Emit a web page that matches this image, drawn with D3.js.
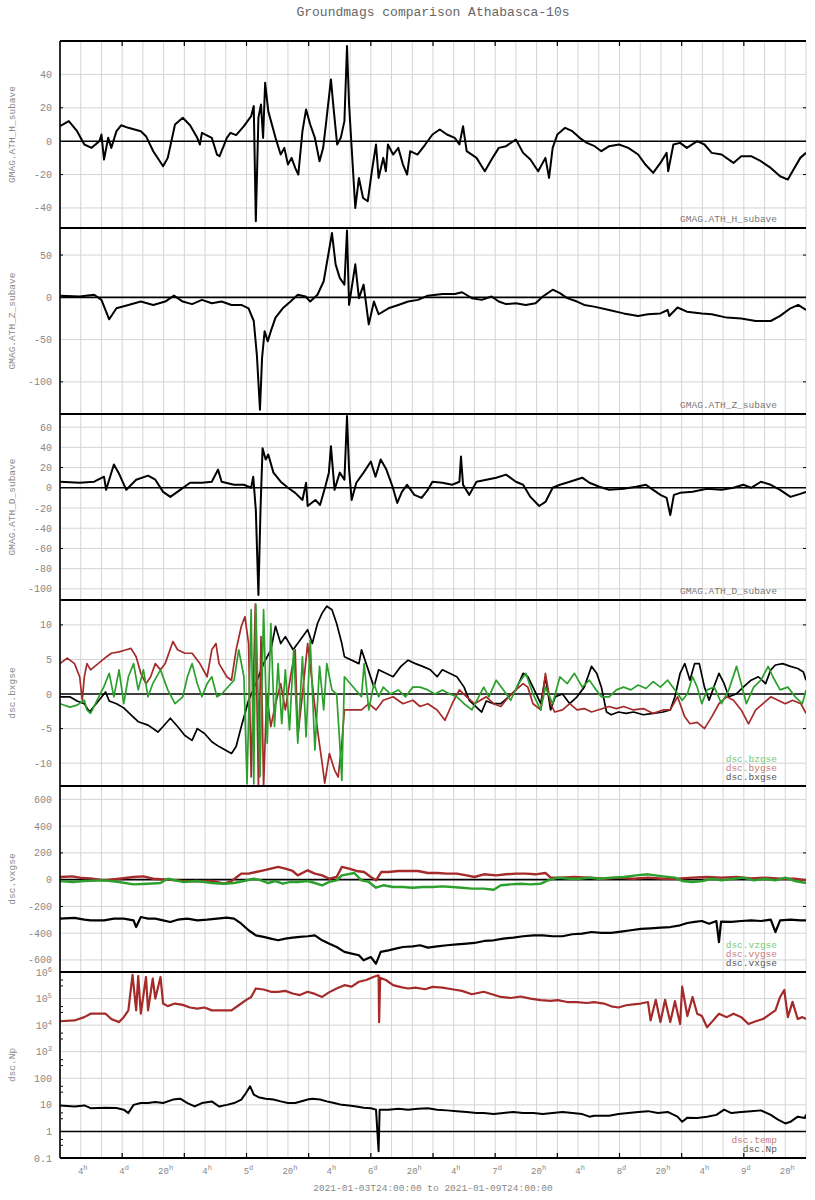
<!DOCTYPE html>
<html><head><meta charset="utf-8">
<script src="https://cdn.jsdelivr.net/npm/d3@7"></script>
<style>
body{margin:0;background:#fff}
svg{display:block}
text{font-family:"Liberation Mono","DejaVu Sans Mono",monospace}
</style>
</head><body>
<svg id="c" width="815" height="1200"></svg>
<script>
// ---------------- DATA (hours since 2021-01-04T00:00, value) ----------------
const H_data=[[0,9],[1.7,12],[3.3,6],[4.7,-2],[6.1,-4],[7.6,0],[8,4],[8.5,-11],[9.3,2],[9.9,-4],[10.9,6],[11.8,9.5],[13.2,8],[15.6,6],[16.6,3],[18,-6],[19.9,-15],[20.8,-10],[22.2,10],[23.7,14],[25.1,9.5],[26.5,2],[27,-2],[27.4,5],[29.3,2],[30.3,-8],[30.8,-9],[31.7,-2],[32.2,2],[32.9,5],[34,3.6],[35.5,9],[36.9,15],[37.4,21],[37.8,-48],[38.3,14],[38.8,22],[39.2,2],[39.6,35],[40.2,18],[41.6,2],[42.6,-8],[43.3,-4],[44,-14],[44.7,-10],[45.4,-16],[46,-20],[46.8,6],[47.5,19],[48.3,10],[49.2,2],[50.1,-12],[50.8,-4],[51.4,12],[52.3,37],[52.8,20],[53.5,-2],[54.2,2],[54.9,12],[55.4,57],[55.8,22],[56.3,-4],[57,-40],[57.7,-22],[58.5,-34],[59.4,-36],[60.2,-18],[61,-2],[61.5,-22],[62.4,-10],[62.9,-18],[63.3,-2],[64.3,-8],[65.3,-4],[66.2,-14],[67,-20],[67.6,-6],[69,-8],[70.5,-2],[71.9,4],[73.3,7],[74.7,4],[76.2,2],[77.1,-2],[77.8,9],[78.5,-6],[80.4,-10],[82,-18],[83.3,-11],[84.7,-4],[86.1,-3],[88,1],[89.4,-7],[90.8,-11],[92.3,-18],[93.7,-10],[94.4,-22],[95.1,-4],[96,4],[97.5,8],[98.9,6],[100.3,2],[101.7,-1],[103.2,-3],[104.5,-6],[106,-3],[107.9,-2],[109.7,-4],[111.6,-8],[113,-14],[114.5,-19],[115.9,-13],[117.1,-7],[117.4,-18],[118.4,-2],[119.7,-1],[121,-4],[123,0],[124.4,-2],[125.8,-7],[127.7,-8],[130,-13],[131.5,-9],[133.4,-9],[135.3,-12],[137.2,-16],[139,-21],[140.5,-23],[141.4,-18],[142.9,-10],[144,-7]];

const Z_data=[[0,2],[3.8,1],[6.6,3],[8,-3],[9.5,-26],[10.9,-13],[13.2,-9],[15.6,-5],[18,-9],[20.3,-5],[22,2],[23.7,-5],[25.5,-8],[27.4,-3],[29.3,-7],[31.2,-5],[33.1,-9],[35,-9],[36.4,-13],[37.4,-28],[38,-68],[38.6,-133],[39,-72],[39.5,-40],[40.1,-52],[40.7,-40],[41.6,-24],[43,-13],[44.5,-5],[45.9,3],[47.4,1],[48.3,-5],[49.7,3],[50.9,19],[52,58],[52.5,76],[53.2,39],[54,23],[54.9,15],[55.4,79],[55.8,-9],[56.4,15],[57,39],[57.7,-1],[58.6,15],[59.6,-32],[60.6,-5],[61.5,-20],[63.4,-13],[65.3,-9],[67.2,-5],[69.1,-3],[71,2],[73.8,4],[76.2,4],[77.6,6],[79.5,-1],[81.4,-3],[83.3,1],[84.7,-5],[86.1,-8],[88,-7],[89.9,-9],[91.8,-7],[93.2,1],[95.1,9],[96.5,5],[97.9,-1],[99.8,-5],[101.2,-9],[103.1,-11],[106,-15],[108.8,-19],[111.6,-22],[113.5,-20],[115.9,-19],[117.3,-15],[117.6,-22],[119.2,-12],[121,-17],[123.9,-19],[125.8,-20],[128.7,-24],[131.5,-25],[134.3,-28],[137.2,-28],[139,-22],[141,-13],[142.5,-9],[144,-15]];

const D_data=[[0,6],[3.8,5],[6.6,6],[8.5,11],[8.9,-2],[10.4,23],[11.3,15],[12.8,-2],[14.7,8],[17,12],[18.4,8],[19.9,-4],[21.3,-9],[23.2,-2],[25.1,5],[27.4,5],[29.3,6],[30.5,18],[31.2,6],[33.6,3],[35.5,3],[36.9,0],[37.3,11],[37.8,-22],[38.3,-106],[38.7,-22],[39.1,39],[39.7,28],[40.2,33],[41.2,15],[42.6,6],[44,0],[45.4,-5],[46.8,-12],[47.5,5],[47.8,-18],[49.3,-12],[50.2,-17],[51.2,1],[51.9,15],[52.3,41],[53,-2],[54,15],[54.9,8],[55.4,71],[55.8,18],[56.3,-12],[57.2,5],[58.6,15],[60,26],[60.9,11],[61.9,28],[63,18],[64.2,1],[65.1,-15],[66,-4],[67,3],[68.4,-7],[69.8,-10],[71,-2],[71.9,6],[73.8,5],[75.7,3],[77.1,6],[77.4,31],[77.8,3],[79,-7],[80.4,6],[82.3,8],[84.2,10],[86.1,13],[88,6],[89.4,3],[90.8,-9],[92.5,-18],[93.7,-14],[95.1,0],[96.5,3],[98.4,6],[100.8,10],[102.2,5],[104.1,1],[106,-2],[108.8,-1],[111.2,1],[113.1,3],[114.5,-2],[115.9,-7],[117.1,-10],[117.8,-27],[118.5,-7],[119.7,-5],[122.1,-4],[124.9,-1],[127.7,-2],[130,0],[131.9,3],[133.4,0],[135.3,6],[137.2,3],[139,-2],[141,-9],[142.9,-6],[144,-4]];

const BX_data=[[0,-0.4],[1.9,-0.4],[3.3,-1],[4.7,-1.4],[5.7,-2.6],[8.8,0.3],[9.5,-1],[10.9,-1.4],[12.3,-2],[13.7,-3],[15.1,-4],[17,-4.5],[18.9,-5.5],[19.9,-4.7],[21.3,-3.5],[22.7,-4.7],[24.1,-6],[25.5,-6.7],[26.5,-5],[27.9,-5.7],[29.3,-6.9],[30.7,-7.6],[33.1,-8.6],[34,-7.6],[35,-4.7],[36.4,-0.9],[37.8,1.5],[39.3,4.4],[40.7,6.4],[41.6,9.8],[42.6,7.3],[43.5,8.3],[45,6.4],[47.8,9.3],[48.7,7.3],[49.7,10.2],[50.6,11.7],[51.5,12.7],[52.5,12.2],[53.4,10.2],[54.4,7.3],[54.9,5.4],[57.7,4.4],[58.2,6.4],[59.1,4.4],[60.6,1],[61.5,3.5],[62.9,3],[64.3,2.5],[65.8,4],[67.2,4.9],[68.6,4.4],[70,4],[71.5,3.5],[72.8,2.5],[73.8,3.5],[75.2,3],[76.6,2.5],[78,1],[79,-0.9],[81.4,-2.6],[82.3,-1],[83.7,-1.4],[85.1,-1.4],[86.6,-0.4],[88,0.6],[89.4,3],[90.3,2.5],[91.3,1],[92.8,-1.4],[93.7,2.5],[94.7,-2.3],[95.6,-0.4],[97,0],[98.4,-1.4],[99.8,-0.4],[101.2,1],[102.6,4],[103.6,3],[104.5,1],[105.5,-2.6],[106.4,-3],[107.8,-2.6],[109.3,-2.8],[110.7,-2.6],[112.6,-3],[114.5,-2.8],[116.4,-2.6],[117.8,-2.3],[118.7,-0.4],[119.7,3],[120.6,4.4],[121.6,2],[122.5,4.4],[123.4,4.4],[124.4,1],[125.3,-0.9],[126.2,1],[127.2,3],[128.2,1.5],[129.1,-0.4],[130.5,0],[131.9,1],[133.4,2],[134.8,2.5],[136.2,1.5],[137.2,3.5],[138.1,4.2],[139.5,4.4],[141,4],[142.4,3.7],[143.5,3.2],[144,2]];

const BY_data=[[0,4.4],[1.4,5.2],[2.8,4.4],[3.8,2.5],[4.3,-0.9],[4.7,2.5],[5.2,4.4],[5.9,3.5],[9,5.4],[9.9,5.9],[11.4,6.1],[12.8,6.4],[13.7,6.6],[14.7,5.4],[15.6,3],[16.6,1.5],[17.5,2.5],[18.4,4.4],[19.4,3.5],[20.3,4.4],[21.8,7.6],[22.7,6.4],[24.1,5.9],[25.5,5.9],[27,4.4],[28.4,2.5],[29.3,6.4],[30.1,7.3],[30.7,4.4],[32.2,2.5],[33.1,2],[34,6.4],[35,9.8],[35.7,11.2],[36.4,7.3],[36.9,-12],[37.7,13],[38.3,-13.4],[38.8,8.3],[39.3,-13.4],[39.9,0],[40.7,-4.7],[41.6,-1.4],[42.6,1.5],[43.5,-2.3],[44.5,2.5],[45.4,6.4],[45.9,-6.2],[46.8,0],[47.8,7.3],[48.7,1.5],[49.7,-5.2],[50.6,-10],[51.1,-12.9],[52,-8.6],[53,-11],[53.7,-12],[54.4,-7.1],[54.9,-2.3],[58.2,-2.3],[59.6,-1.4],[61,-2.3],[62.4,-0.9],[64.3,-0.4],[66.2,-1.4],[68.1,-0.9],[69.5,-1.8],[71,-1.4],[72.8,-2.3],[74.3,-3.8],[75.7,-1.4],[77.1,0.6],[78.5,-0.4],[80,-1.4],[82.3,-0.4],[83.7,-1.4],[85.1,-1.8],[86.6,-0.4],[88,0.6],[89.4,1.5],[90.3,1],[91.3,-1.4],[92.8,-2.3],[93.7,3],[94.7,-1.4],[95.5,-2.6],[97,-2.3],[98.4,-1.4],[99.8,-2.3],[101.2,-2.1],[102.6,-2.6],[106,-1.8],[107.4,-2.1],[108.8,-1.8],[110.7,-2.3],[112.6,-2.1],[114.5,-2.8],[116.4,-2.3],[117.8,-2.3],[119.2,-0.4],[120.6,-3.3],[121.6,-4.3],[123,-4.1],[124.4,-5],[125.8,-3.3],[127.2,-1.4],[128.7,-0.4],[130,-0.9],[131.5,-2.3],[132.9,-4.3],[134.3,-2.3],[135.7,-1.4],[137.2,-0.4],[138.6,-0.9],[140,-1.4],[141.4,-0.9],[143,-1.4],[144,-2.8]];

const BZ_data=[[0,-1.4],[1.9,-1.9],[3.3,-1.6],[4.7,-0.9],[5.2,-2.3],[5.9,-2.8],[8.5,1.1],[9.5,3],[10.4,-0.4],[11.4,3.5],[12.3,-1.4],[13.2,2.5],[14.2,4.4],[15.1,0.6],[16.1,3.5],[17,-0.4],[17.9,1.5],[19.4,3.5],[20.8,0.6],[22.2,-1.4],[23.7,-0.4],[24.6,2.5],[25.5,4.4],[26.5,1.5],[27.4,-0.4],[28.4,1.5],[29.3,2.5],[30.3,-0.4],[31.2,0],[33.6,2],[34.5,6.4],[35.5,2.5],[36.1,-13],[36.9,12.2],[37.4,-13],[37.8,13],[38.6,-12],[39.3,12.2],[40,-7.1],[40.7,10.2],[41.4,-4.7],[42.1,4.4],[42.8,-4.3],[43.5,3.5],[44.3,-5.2],[45.1,6.4],[45.9,-7.1],[46.8,5.4],[47.5,-6.2],[48.3,7.8],[49.2,-8.1],[50.1,4],[50.9,-2.3],[51.5,4.4],[52.5,0.6],[53.4,0],[54,-7.1],[54.4,-12.5],[54.9,2.5],[58.2,-0.4],[58.7,4.4],[59.6,-2.3],[60.6,1.5],[61.5,-0.4],[62.4,1],[63.8,0],[65.3,0.6],[66.7,-0.4],[68.1,1],[69.5,1],[71,0.6],[72.4,0],[73.8,0.6],[75.2,0],[76.6,-0.4],[78,-1.4],[79.5,-2.3],[81.8,1],[82.8,-0.4],[84.2,2],[85.6,0.6],[87,-0.9],[88.5,1.5],[89.9,3],[91.3,0],[92.8,-2.3],[93.7,1],[95.1,-1.4],[96.5,2.5],[97.9,1.5],[99.3,3],[100.8,1],[102.2,2],[103.1,1],[104.5,-0.4],[106,-0.4],[107.4,0.6],[108.8,1],[110.2,0.6],[111.6,1.3],[113.1,0.8],[114.5,1.8],[115.9,1],[117.3,2],[118.7,0.6],[120.1,-0.9],[121.1,0],[122.1,2.5],[123,1],[123.9,-1.4],[124.9,0.6],[126.3,1],[127.7,-1.4],[129.1,0.6],[130.6,4],[131.5,1.5],[132.5,-1.4],[133.9,1],[135.3,2],[136.7,4],[137.6,2.5],[139,0.6],[140.5,1],[141.9,-0.4],[143.3,-1.4],[144,0.6]];

const VX_data=[[0,-291],[2.8,-286],[4.7,-299],[5.9,-304],[8.5,-304],[10.4,-291],[12.3,-291],[14.2,-304],[14.7,-354],[15.6,-279],[17,-291],[18.4,-291],[19.9,-304],[21.3,-316],[22.7,-299],[24.6,-291],[26.5,-304],[28.4,-299],[30.3,-291],[32.2,-284],[33.6,-291],[35,-329],[36.4,-378],[37.8,-416],[39.3,-428],[40.7,-441],[42.1,-453],[43.5,-441],[44.9,-433],[46.3,-428],[47.8,-423],[49.2,-416],[50.6,-453],[52,-478],[53.4,-503],[54.9,-540],[56.3,-553],[57.7,-565],[58.6,-603],[60,-578],[61,-628],[61.9,-540],[63.4,-528],[64.8,-515],[66.2,-503],[68.1,-498],[69.5,-490],[71,-508],[72.8,-498],[74.7,-490],[76.6,-483],[78.5,-478],[80,-473],[81.9,-458],[83.7,-453],[85.6,-441],[87.5,-433],[89.4,-423],[91.4,-416],[93.2,-416],[95.1,-423],[97,-423],[98.9,-408],[100.8,-403],[102.6,-391],[104.5,-398],[106.4,-398],[108.3,-388],[110.2,-378],[112.1,-368],[114,-364],[115.9,-359],[117.8,-354],[119.7,-341],[121.1,-324],[122.5,-316],[123.9,-309],[125.3,-329],[126.7,-309],[127.2,-466],[127.6,-314],[129.6,-316],[131.5,-309],[133.4,-304],[135.3,-309],[137.2,-299],[138.1,-391],[139,-304],[141,-299],[142.9,-304],[144,-304]];

const VY_data=[[0,20],[2.4,25],[4.3,12],[5.9,10],[8.5,-5],[11.4,7],[14.2,20],[16.1,25],[18,7],[20.8,0],[23.7,-10],[26.5,-12],[29.3,-10],[31.7,-30],[33.1,-10],[35,45],[36.4,45],[37.8,57],[39.3,70],[40.7,82],[42.1,95],[43.5,82],[44.9,65],[45.9,32],[47.8,70],[49.2,45],[50.6,32],[52,7],[53.4,20],[54.4,95],[55.8,82],[57.2,65],[58.7,57],[60,20],[61,-5],[62,57],[63.4,57],[65.3,65],[67.2,65],[69.1,65],[71,50],[72.8,50],[74.7,45],[76.6,45],[78.5,32],[80,20],[81.8,40],[84.2,32],[86.1,40],[88,45],[89.9,45],[91.8,40],[93.7,50],[94.7,15],[96.5,15],[99.3,20],[102.2,15],[105,7],[107.8,15],[110.7,7],[113.5,15],[116.4,7],[119.2,7],[122.1,15],[124.9,20],[127.7,15],[130.6,20],[133.4,10],[136.2,15],[139,7],[141.9,7],[144,-5]];

const VZ_data=[[0,-10],[2.4,-17],[4.7,-10],[8.5,-5],[11.4,-17],[14.2,-35],[17,-30],[19.4,-25],[20.8,7],[23.7,-17],[26.5,-10],[29.3,-25],[31.7,-30],[33.6,-25],[35.5,-10],[37.4,7],[38.8,-5],[40.2,-25],[41.6,-10],[43,-30],[44.5,-17],[45.9,-17],[47.8,-10],[49.2,-25],[50.6,-42],[52,-17],[53.4,-5],[54.4,32],[56.8,50],[58.2,-5],[59.6,-17],[61,-60],[62.4,-42],[64.3,-55],[66.2,-55],[68.1,-60],[70,-55],[71.9,-55],[73.8,-50],[75.7,-55],[77.6,-60],[79.5,-67],[81.8,-67],[83.7,-75],[85.1,-42],[87,-35],[88.9,-30],[90.8,-35],[92.8,-30],[94.2,-5],[96.1,15],[98.4,7],[100.3,7],[102.2,15],[104.1,7],[106.4,15],[108.8,20],[111.2,32],[113.5,40],[116.4,25],[118.7,15],[120.1,-10],[122.1,-17],[124,-10],[125.8,7],[127.7,-5],[130.1,7],[131.9,15],[133.9,-5],[136.2,7],[138.1,-5],[140,15],[141.9,-10],[144,-25]];

const TEMP_data=[[0,14000],[2.8,15000],[4.7,20000],[5.9,27000],[8.8,27000],[9.9,17000],[11.4,13000],[12.3,20000],[13.2,36000],[14,780000],[14.7,36000],[15.1,700000],[15.6,27000],[16.6,650000],[17,36000],[17.9,560000],[18.4,100000],[19.4,650000],[19.9,65000],[20.8,52000],[22.2,65000],[23.7,58000],[25.1,46000],[26.5,42000],[27.9,46000],[29.3,36000],[31.2,36000],[33.1,36000],[34.5,56000],[35.9,87000],[36.9,115000],[37.8,240000],[39.3,220000],[40.7,180000],[42.1,180000],[43.5,195000],[44.9,155000],[46.3,135000],[47.8,180000],[49.2,150000],[50.6,115000],[52,175000],[53.4,240000],[54.9,320000],[56.3,280000],[57.7,430000],[59.1,500000],[60.6,660000],[61.5,750000],[61.6,13000],[61.8,600000],[62.9,500000],[64.3,320000],[65.8,270000],[67.2,240000],[68.6,260000],[70.5,225000],[71.9,275000],[73.8,260000],[75.7,225000],[77.6,195000],[79.5,145000],[81.8,180000],[83.7,140000],[85.1,115000],[87,105000],[88.9,120000],[90.8,100000],[92.8,87000],[94.7,82000],[96.1,87000],[97.9,74000],[99.8,74000],[101.7,68000],[103.1,74000],[105,65000],[106.4,51000],[107.8,46000],[109.3,56000],[110.7,60000],[112.1,65000],[113.5,74000],[114,15000],[115,90000],[115.9,13000],[116.8,90000],[117.8,13000],[118.7,80000],[119.7,11000],[120.1,280000],[121.1,22000],[122.1,115000],[123,27000],[123.9,22000],[124.9,8300],[125.8,13000],[127.2,27000],[128.7,20000],[130,27000],[131.5,20000],[132.9,11000],[134.3,14000],[135.7,17000],[137.2,27000],[138.1,36000],[139,115000],[139.8,210000],[140.5,20000],[141.4,75000],[142.4,17000],[143.3,20000],[144,17000]];

const NP_data=[[0,9.5],[2.8,8.7],[4.7,9.5],[5.9,7.5],[8.8,7.8],[10.9,7.6],[12.3,6.6],[13.2,4.9],[14.2,10],[15.6,11.7],[17,11.7],[18.4,12.9],[19.9,11.7],[21.8,15.8],[23.2,17],[24.6,11.7],[26,8.7],[27.4,11.7],[29.3,13.5],[30.7,8.7],[32.2,10],[33.6,11.7],[35,15.8],[35.9,28],[36.7,50],[37.4,24.5],[38.3,19.5],[39.7,17],[41.2,15.8],[42.6,13.5],[44,11.7],[45.4,11.7],[46.8,14],[47.8,15.8],[48.7,17],[50.2,15.8],[51.5,13.5],[52.9,11.7],[54.4,10],[55.8,9.5],[57.2,8.7],[58.6,7.8],[60,7.5],[61,6.6],[61.5,0.18],[61.7,6.6],[63.4,6.6],[65.3,7.1],[67.2,6.6],[69.1,7.1],[71,7.5],[72.8,6.6],[74.7,6.2],[76.6,5.8],[78.5,5.4],[80.4,4.9],[81.8,4.9],[83.7,4.5],[85.6,4.9],[87.5,5.4],[89.4,4.9],[91.4,4.9],[93.2,4.5],[95.1,4.9],[97,5.4],[98.9,4.9],[100.8,4.5],[102.2,3.6],[103.1,3.9],[106,3.9],[107.8,4.5],[109.7,4.9],[111.6,5.4],[113.5,5.8],[115.4,4.9],[117.3,5.4],[119.2,3.6],[120.1,2.3],[121.1,3.3],[123,3.2],[124.9,3.6],[126.7,4.2],[128.2,6.6],[129.6,4.9],[131.5,5.4],[133.4,5.8],[135.3,6.2],[137.2,4.2],[138.6,2.8],[140,2],[141,2.3],[142.4,3.6],[143.8,3.2],[144,4.3]];

// tick values
const H_ticks=[40,20,0,-20,-40];
const Z_ticks=[50,0,-50,-100];
const D_ticks=[60,40,20,0,-20,-40,-60,-80,-100];
const B_ticks=[10,5,0,-5,-10];
const V_ticks=[600,400,200,0,-200,-400,-600];
const N_ticks=[1e6,1e5,1e4,1e3,100,10,1,0.1];
const N_tickLabels=[["10","6"],["10","5"],["10","4"],["10","3"],["100"],["10"],["1"],["0.1"]];

const titleText="Groundmags comparison Athabasca-10s";
const rangeText="2021-01-03T24:00:00 to 2021-01-09T24:00:00";

// ---------------- LAYOUT ----------------
const svg=d3.select("#c");
const L=60,R=806;
const t0=new Date(Date.UTC(2021,0,4)), t1=new Date(Date.UTC(2021,0,10));
const x=d3.scaleUtc().domain([t0,t1]).range([L,R]);
const T=h=>new Date(t0.getTime()+h*3600e3);
const RED="#a52a2a", GREEN="#2ca02c";

const panels=[
 {top:41,bot:228,dom:[-52,60],ticks:H_ticks,label:"GMAG.ATH_H_subave",marks:[20,-20],
  series:[{d:H_data,c:"#000",w:2}],legend:[["GMAG.ATH_H_subave","#777"]]},
 {top:228,bot:414,dom:[-138,82],ticks:Z_ticks,label:"GMAG.ATH_Z_subave",marks:[50,-100],
  series:[{d:Z_data,c:"#000",w:2}],legend:[["GMAG.ATH_Z_subave","#777"]]},
 {top:414,bot:600,dom:[-111,73],ticks:D_ticks,label:"GMAG.ATH_D_subave",marks:[20,-60],
  series:[{d:D_data,c:"#000",w:2}],legend:[["GMAG.ATH_D_subave","#777"]]},
 {top:600,bot:786,dom:[-13.3,13.6],ticks:B_ticks,label:"dsc.bxgse",marks:[10,-5],
  series:[{d:BX_data,c:"#000",w:1.7},{d:BY_data,c:RED,w:1.7},{d:BZ_data,c:GREEN,w:1.7}],
  legend:[["dsc.bzgse","#77c977"],["dsc.bygse","#c77a7a"],["dsc.bxgse","#555"]]},
 {top:786,bot:972,dom:[-690,700],ticks:V_ticks,label:"dsc.vxgse",marks:[200,-200],
  series:[{d:VX_data,c:"#000",w:2.2},{d:VY_data,c:RED,w:2.4},{d:VZ_data,c:GREEN,w:2.4}],
  legend:[["dsc.vzgse","#77c977"],["dsc.vygse","#c77a7a"],["dsc.vxgse","#555"]]},
 {top:972,bot:1158,dom:[0.1,1e6],log:true,ticks:N_ticks,label:"dsc.Np",marks:[],
  series:[{d:TEMP_data,c:RED,w:2.2},{d:NP_data,c:"#000",w:2}],
  legend:[["dsc.temp","#c77a7a"],["dsc.Np","#555"]]}
];

const defs=svg.append("defs");
const gridHours=d3.utcHour.every(4).range(t0,new Date(t1.getTime()+1));

panels.forEach((p,i)=>{
  const y=(p.log?d3.scaleLog():d3.scaleLinear()).domain(p.dom).range([p.bot,p.top]);
  const g=svg.append("g");
  g.selectAll(".vg").data(gridHours).join("line")
    .attr("x1",d=>x(d)).attr("x2",d=>x(d)).attr("y1",p.top).attr("y2",p.bot)
    .attr("stroke","#d4d4d4").attr("stroke-width",1);
  const zero=p.log?1:0;
  g.selectAll(".hg").data(p.ticks.filter(v=>v!==zero)).join("line")
    .attr("x1",L).attr("x2",R).attr("y1",d=>y(d)).attr("y2",d=>y(d))
    .attr("stroke","#d4d4d4").attr("stroke-width",1);
  g.selectAll(".mk").data(p.marks).join("g").each(function(v){
    d3.select(this).append("line").attr("x1",L).attr("x2",L+3).attr("y1",y(v)).attr("y2",y(v)).attr("stroke","#000");
    d3.select(this).append("line").attr("x1",R-3).attr("x2",R).attr("y1",y(v)).attr("y2",y(v)).attr("stroke","#000");
  });
  if(p.log){
    const minor=[];
    for(let e=-1;e<6;e++){[3,5].forEach(m=>minor.push(m*Math.pow(10,e)));}
    g.selectAll(".mn").data(minor).join("line")
      .attr("x1",L+1).attr("x2",L+3).attr("y1",d=>y(d)).attr("y2",d=>y(d)).attr("stroke","#000");
  }
  defs.append("clipPath").attr("id","cp"+i).append("rect")
    .attr("x",L).attr("y",p.top).attr("width",R-L).attr("height",p.bot-p.top);
  g.append("line").attr("x1",L).attr("x2",R).attr("y1",y(zero)).attr("y2",y(zero))
    .attr("stroke","#000").attr("stroke-width",1.6);
  const line=d3.line().x(d=>x(T(d[0]))).y(d=>y(d[1]));
  const sg=g.append("g").attr("clip-path",`url(#cp${i})`);
  p.series.forEach(s=>{
    sg.append("path").attr("d",line(s.d)).attr("fill","none")
      .attr("stroke",s.c).attr("stroke-width",s.w).attr("stroke-linejoin","round");
  });
  const tl=g.selectAll(".tl").data(p.ticks).join("text")
    .attr("x",52).attr("y",d=>y(d)+3.5).attr("text-anchor","end")
    .attr("font-size",10).attr("fill","#888");
  if(p.log){
    tl.each(function(d,k){
      const lab=N_tickLabels[k];
      const t=d3.select(this);
      t.append("tspan").text(lab[0]);
      if(lab[1]) t.append("tspan").attr("dy",-4).attr("font-size",7).text(lab[1]);
    });
  } else {
    tl.text(d=>String(d));
  }
  svg.append("text").attr("transform",`translate(15,${(p.top+p.bot)/2}) rotate(-90)`)
    .attr("text-anchor","middle").attr("font-size",9.5).attr("fill","#888").text(p.label);
  const n=p.legend.length;
  p.legend.forEach((lg,k)=>{
    svg.append("text").attr("x",777).attr("y",p.bot-6-(n-1-k)*9.2)
      .attr("text-anchor","end").attr("font-size",9.5).attr("fill",lg[1]).text(lg[0]);
  });
});

const bounds=[41,228,414,600,786,972,1158];
svg.selectAll(".pb").data(bounds).join("line")
  .attr("x1",L).attr("x2",R).attr("y1",d=>d).attr("y2",d=>d)
  .attr("stroke","#000").attr("stroke-width",2);
svg.append("line").attr("x1",L).attr("x2",L).attr("y1",41).attr("y2",1158)
  .attr("stroke","#000").attr("stroke-width",1.6);

const majors=d3.utcHour.every(12).range(new Date(t0.getTime()+1),t1);
svg.selectAll(".tt").data(majors).join("line")
  .attr("x1",d=>x(d)).attr("x2",d=>x(d)).attr("y1",41).attr("y2",46).attr("stroke","#000").attr("stroke-width",1.2);
svg.selectAll(".bt").data(majors).join("line")
  .attr("x1",d=>x(d)).attr("x2",d=>x(d)).attr("y1",1153).attr("y2",1158).attr("stroke","#000").attr("stroke-width",1.2);

const labTimes=d3.utcHour.every(4).range(t0,t1).filter(d=>[4,12,20].includes(d.getUTCHours()));
labTimes.forEach(d=>{
  const hr=d.getUTCHours();
  const main=hr===12?String(d.getUTCDate()):String(hr);
  const sup=hr===12?"d":"h";
  const t=svg.append("text").attr("x",x(d)+2).attr("y",1174).attr("text-anchor","middle")
    .attr("font-size",9).attr("fill","#888");
  t.append("tspan").text(main);
  t.append("tspan").attr("dy",-4).attr("font-size",7).text(sup);
});

svg.append("text").attr("x",433).attr("y",16).attr("text-anchor","middle")
  .attr("font-size",13).attr("fill","#666").text(titleText);
svg.append("text").attr("x",433).attr("y",1191).attr("text-anchor","middle")
  .attr("font-size",9.5).attr("fill","#888").text(rangeText);
</script>
</body></html>
